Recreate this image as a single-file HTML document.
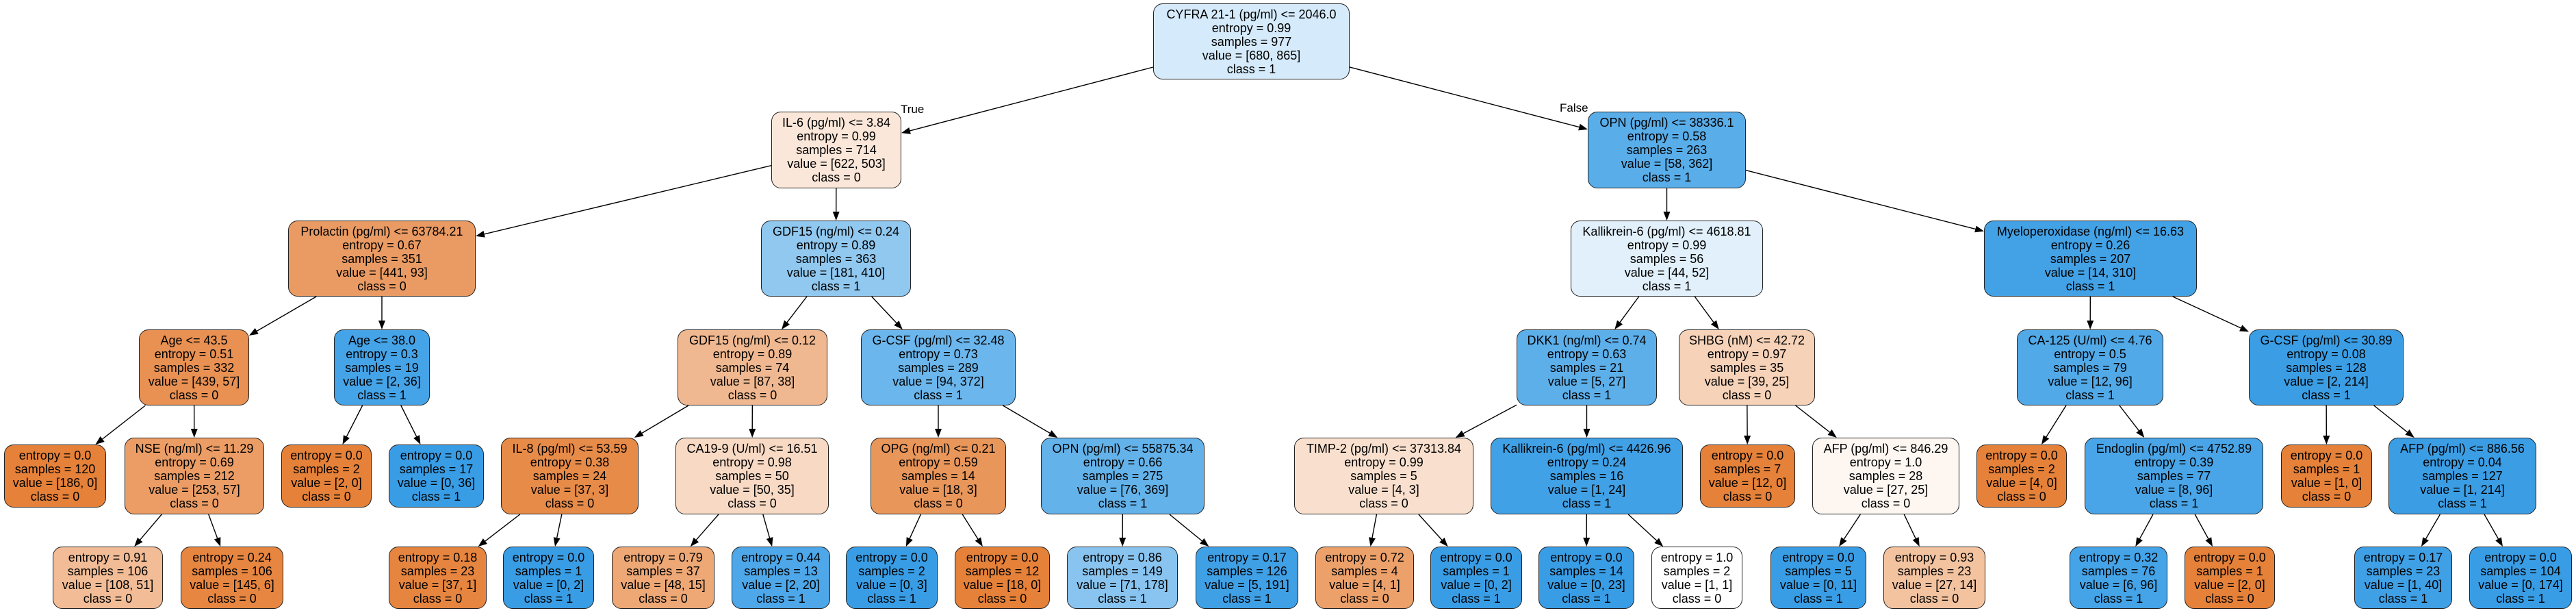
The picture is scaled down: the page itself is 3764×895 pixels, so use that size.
<!DOCTYPE html>
<html><head><meta charset="utf-8"><style>
html,body{margin:0;padding:0;background:#fff}
body{width:3764px;height:895px;position:relative;overflow:hidden;font-family:"Liberation Sans",Arial,sans-serif}
.n{position:absolute;box-sizing:border-box;border:1.3px solid #222;border-radius:14px;display:flex;flex-direction:column;justify-content:center;align-items:center;font-size:18px;line-height:20px;color:#000;white-space:nowrap;text-align:center}
.r0{top:5px;height:111px}.r1{top:163px;height:112px}.r2{top:322px;height:111px}.r3{top:481px;height:111px}
.r4{top:639px;height:112px}.r4l{top:649px;height:92px}.r5{top:798px;height:91px}
.lbl{position:absolute;font-size:17px;color:#000}
svg{position:absolute;left:0;top:0}
</style></head><body>
<svg id="sv" width="3764" height="895"></svg>
<div class="lbl" style="left:1316px;top:150px">True</div>
<div class="lbl" style="left:2279px;top:148px">False</div>

<div id="n0" class="n r0" style="left:1685px;width:287px;background:color-mix(in srgb,#399de5 21%,#fff)"><div>CYFRA 21-1 (pg/ml) &lt;= 2046.0</div><div>entropy = 0.99</div><div>samples = 977</div><div>value = [680, 865]</div><div>class = 1</div></div>

<div id="n1" class="n r1" style="left:1127px;width:190px;background:color-mix(in srgb,#e58139 19%,#fff)"><div>IL-6 (pg/ml) &lt;= 3.84</div><div>entropy = 0.99</div><div>samples = 714</div><div>value = [622, 503]</div><div>class = 0</div></div>
<div id="n2" class="n r1" style="left:2320px;width:231px;background:color-mix(in srgb,#399de5 84%,#fff)"><div>OPN (pg/ml) &lt;= 38336.1</div><div>entropy = 0.58</div><div>samples = 263</div><div>value = [58, 362]</div><div>class = 1</div></div>

<div id="n3" class="n r2" style="left:421px;width:274px;background:color-mix(in srgb,#e58139 79%,#fff)"><div>Prolactin (pg/ml) &lt;= 63784.21</div><div>entropy = 0.67</div><div>samples = 351</div><div>value = [441, 93]</div><div>class = 0</div></div>
<div id="n4" class="n r2" style="left:1112px;width:219px;background:color-mix(in srgb,#399de5 56%,#fff)"><div>GDF15 (ng/ml) &lt;= 0.24</div><div>entropy = 0.89</div><div>samples = 363</div><div>value = [181, 410]</div><div>class = 1</div></div>
<div id="n5" class="n r2" style="left:2295px;width:281px;background:color-mix(in srgb,#399de5 15%,#fff)"><div>Kallikrein-6 (pg/ml) &lt;= 4618.81</div><div>entropy = 0.99</div><div>samples = 56</div><div>value = [44, 52]</div><div>class = 1</div></div>
<div id="n6" class="n r2" style="left:2899px;width:311px;background:color-mix(in srgb,#399de5 95%,#fff)"><div>Myeloperoxidase (ng/ml) &lt;= 16.63</div><div>entropy = 0.26</div><div>samples = 207</div><div>value = [14, 310]</div><div>class = 1</div></div>

<div id="n7" class="n r3" style="left:203px;width:161px;background:color-mix(in srgb,#e58139 87%,#fff)"><div>Age &lt;= 43.5</div><div>entropy = 0.51</div><div>samples = 332</div><div>value = [439, 57]</div><div>class = 0</div></div>
<div id="n8" class="n r3" style="left:488px;width:140px;background:color-mix(in srgb,#399de5 94%,#fff)"><div>Age &lt;= 38.0</div><div>entropy = 0.3</div><div>samples = 19</div><div>value = [2, 36]</div><div>class = 1</div></div>
<div id="n9" class="n r3" style="left:990px;width:219px;background:color-mix(in srgb,#e58139 56%,#fff)"><div>GDF15 (ng/ml) &lt;= 0.12</div><div>entropy = 0.89</div><div>samples = 74</div><div>value = [87, 38]</div><div>class = 0</div></div>
<div id="n10" class="n r3" style="left:1258px;width:226px;background:color-mix(in srgb,#399de5 75%,#fff)"><div>G-CSF (pg/ml) &lt;= 32.48</div><div>entropy = 0.73</div><div>samples = 289</div><div>value = [94, 372]</div><div>class = 1</div></div>
<div id="n11" class="n r3" style="left:2216px;width:205px;background:color-mix(in srgb,#399de5 82%,#fff)"><div>DKK1 (ng/ml) &lt;= 0.74</div><div>entropy = 0.63</div><div>samples = 21</div><div>value = [5, 27]</div><div>class = 1</div></div>
<div id="n12" class="n r3" style="left:2453px;width:199px;background:color-mix(in srgb,#e58139 36%,#fff)"><div>SHBG (nM) &lt;= 42.72</div><div>entropy = 0.97</div><div>samples = 35</div><div>value = [39, 25]</div><div>class = 0</div></div>
<div id="n13" class="n r3" style="left:2947px;width:214px;background:color-mix(in srgb,#399de5 88%,#fff)"><div>CA-125 (U/ml) &lt;= 4.76</div><div>entropy = 0.5</div><div>samples = 79</div><div>value = [12, 96]</div><div>class = 1</div></div>
<div id="n14" class="n r3" style="left:3286px;width:226px;background:color-mix(in srgb,#399de5 99%,#fff)"><div>G-CSF (pg/ml) &lt;= 30.89</div><div>entropy = 0.08</div><div>samples = 128</div><div>value = [2, 214]</div><div>class = 1</div></div>

<div id="n15" class="n r4l" style="left:6px;width:149px;background:#e58139"><div>entropy = 0.0</div><div>samples = 120</div><div>value = [186, 0]</div><div>class = 0</div></div>
<div id="n16" class="n r4" style="left:182px;width:204px;background:color-mix(in srgb,#e58139 78%,#fff)"><div>NSE (ng/ml) &lt;= 11.29</div><div>entropy = 0.69</div><div>samples = 212</div><div>value = [253, 57]</div><div>class = 0</div></div>
<div id="n17" class="n r4l" style="left:411px;width:132px;background:#e58139"><div>entropy = 0.0</div><div>samples = 2</div><div>value = [2, 0]</div><div>class = 0</div></div>
<div id="n18" class="n r4l" style="left:568px;width:139px;background:#399de5"><div>entropy = 0.0</div><div>samples = 17</div><div>value = [0, 36]</div><div>class = 1</div></div>
<div id="n19" class="n r4" style="left:732px;width:201px;background:color-mix(in srgb,#e58139 92%,#fff)"><div>IL-8 (pg/ml) &lt;= 53.59</div><div>entropy = 0.38</div><div>samples = 24</div><div>value = [37, 3]</div><div>class = 0</div></div>
<div id="n20" class="n r4" style="left:987px;width:224px;background:color-mix(in srgb,#e58139 30%,#fff)"><div>CA19-9 (U/ml) &lt;= 16.51</div><div>entropy = 0.98</div><div>samples = 50</div><div>value = [50, 35]</div><div>class = 0</div></div>
<div id="n21" class="n r4" style="left:1272px;width:198px;background:color-mix(in srgb,#e58139 83%,#fff)"><div>OPG (ng/ml) &lt;= 0.21</div><div>entropy = 0.59</div><div>samples = 14</div><div>value = [18, 3]</div><div>class = 0</div></div>
<div id="n22" class="n r4" style="left:1521px;width:239px;background:color-mix(in srgb,#399de5 79%,#fff)"><div>OPN (pg/ml) &lt;= 55875.34</div><div>entropy = 0.66</div><div>samples = 275</div><div>value = [76, 369]</div><div>class = 1</div></div>
<div id="n23" class="n r4" style="left:1891px;width:262px;background:color-mix(in srgb,#e58139 25%,#fff)"><div>TIMP-2 (pg/ml) &lt;= 37313.84</div><div>entropy = 0.99</div><div>samples = 5</div><div>value = [4, 3]</div><div>class = 0</div></div>
<div id="n24" class="n r4" style="left:2178px;width:281px;background:color-mix(in srgb,#399de5 96%,#fff)"><div>Kallikrein-6 (pg/ml) &lt;= 4426.96</div><div>entropy = 0.24</div><div>samples = 16</div><div>value = [1, 24]</div><div>class = 1</div></div>
<div id="n25" class="n r4l" style="left:2484px;width:139px;background:#e58139"><div>entropy = 0.0</div><div>samples = 7</div><div>value = [12, 0]</div><div>class = 0</div></div>
<div id="n26" class="n r4" style="left:2648px;width:215px;background:color-mix(in srgb,#e58139 7%,#fff)"><div>AFP (pg/ml) &lt;= 846.29</div><div>entropy = 1.0</div><div>samples = 28</div><div>value = [27, 25]</div><div>class = 0</div></div>
<div id="n27" class="n r4l" style="left:2888px;width:132px;background:#e58139"><div>entropy = 0.0</div><div>samples = 2</div><div>value = [4, 0]</div><div>class = 0</div></div>
<div id="n28" class="n r4" style="left:3046px;width:261px;background:color-mix(in srgb,#399de5 92%,#fff)"><div>Endoglin (pg/ml) &lt;= 4752.89</div><div>entropy = 0.39</div><div>samples = 77</div><div>value = [8, 96]</div><div>class = 1</div></div>
<div id="n29" class="n r4l" style="left:3333px;width:133px;background:#e58139"><div>entropy = 0.0</div><div>samples = 1</div><div>value = [1, 0]</div><div>class = 0</div></div>
<div id="n30" class="n r4" style="left:3490px;width:216px;background:color-mix(in srgb,#399de5 99%,#fff)"><div>AFP (pg/ml) &lt;= 886.56</div><div>entropy = 0.04</div><div>samples = 127</div><div>value = [1, 214]</div><div>class = 1</div></div>

<div id="n31" class="n r5" style="left:77px;width:161px;background:color-mix(in srgb,#e58139 53%,#fff)"><div>entropy = 0.91</div><div>samples = 106</div><div>value = [108, 51]</div><div>class = 0</div></div>
<div id="n32" class="n r5" style="left:264px;width:150px;background:color-mix(in srgb,#e58139 96%,#fff)"><div>entropy = 0.24</div><div>samples = 106</div><div>value = [145, 6]</div><div>class = 0</div></div>
<div id="n33" class="n r5" style="left:568px;width:143px;background:color-mix(in srgb,#e58139 97%,#fff)"><div>entropy = 0.18</div><div>samples = 23</div><div>value = [37, 1]</div><div>class = 0</div></div>
<div id="n34" class="n r5" style="left:735px;width:133px;background:#399de5"><div>entropy = 0.0</div><div>samples = 1</div><div>value = [0, 2]</div><div>class = 1</div></div>
<div id="n35" class="n r5" style="left:894px;width:150px;background:color-mix(in srgb,#e58139 69%,#fff)"><div>entropy = 0.79</div><div>samples = 37</div><div>value = [48, 15]</div><div>class = 0</div></div>
<div id="n36" class="n r5" style="left:1069px;width:144px;background:color-mix(in srgb,#399de5 90%,#fff)"><div>entropy = 0.44</div><div>samples = 13</div><div>value = [2, 20]</div><div>class = 1</div></div>
<div id="n37" class="n r5" style="left:1236px;width:134px;background:#399de5"><div>entropy = 0.0</div><div>samples = 2</div><div>value = [0, 3]</div><div>class = 1</div></div>
<div id="n38" class="n r5" style="left:1395px;width:139px;background:#e58139"><div>entropy = 0.0</div><div>samples = 12</div><div>value = [18, 0]</div><div>class = 0</div></div>
<div id="n39" class="n r5" style="left:1559px;width:162px;background:color-mix(in srgb,#399de5 60%,#fff)"><div>entropy = 0.86</div><div>samples = 149</div><div>value = [71, 178]</div><div>class = 1</div></div>
<div id="n40" class="n r5" style="left:1747px;width:150px;background:color-mix(in srgb,#399de5 97%,#fff)"><div>entropy = 0.17</div><div>samples = 126</div><div>value = [5, 191]</div><div>class = 1</div></div>
<div id="n41" class="n r5" style="left:1922px;width:144px;background:color-mix(in srgb,#e58139 75%,#fff)"><div>entropy = 0.72</div><div>samples = 4</div><div>value = [4, 1]</div><div>class = 0</div></div>
<div id="n42" class="n r5" style="left:2090px;width:134px;background:#399de5"><div>entropy = 0.0</div><div>samples = 1</div><div>value = [0, 2]</div><div>class = 1</div></div>
<div id="n43" class="n r5" style="left:2248px;width:140px;background:#399de5"><div>entropy = 0.0</div><div>samples = 14</div><div>value = [0, 23]</div><div>class = 1</div></div>
<div id="n44" class="n r5" style="left:2413px;width:133px;background:#fff"><div>entropy = 1.0</div><div>samples = 2</div><div>value = [1, 1]</div><div>class = 0</div></div>
<div id="n45" class="n r5" style="left:2587px;width:140px;background:#399de5"><div>entropy = 0.0</div><div>samples = 5</div><div>value = [0, 11]</div><div>class = 1</div></div>
<div id="n46" class="n r5" style="left:2752px;width:149px;background:color-mix(in srgb,#e58139 48%,#fff)"><div>entropy = 0.93</div><div>samples = 23</div><div>value = [27, 14]</div><div>class = 0</div></div>
<div id="n47" class="n r5" style="left:3024px;width:143px;background:color-mix(in srgb,#399de5 94%,#fff)"><div>entropy = 0.32</div><div>samples = 76</div><div>value = [6, 96]</div><div>class = 1</div></div>
<div id="n48" class="n r5" style="left:3192px;width:132px;background:#e58139"><div>entropy = 0.0</div><div>samples = 1</div><div>value = [2, 0]</div><div>class = 0</div></div>
<div id="n49" class="n r5" style="left:3440px;width:143px;background:color-mix(in srgb,#399de5 97%,#fff)"><div>entropy = 0.17</div><div>samples = 23</div><div>value = [1, 40]</div><div>class = 1</div></div>
<div id="n50" class="n r5" style="left:3608px;width:150px;background:#399de5"><div>entropy = 0.0</div><div>samples = 104</div><div>value = [0, 174]</div><div>class = 1</div></div>

<script>
(function(){
var E=[[0,1],[0,2],[1,3],[1,4],[2,5],[2,6],[3,7],[3,8],[4,9],[4,10],[5,11],[5,12],[6,13],[6,14],
[7,15],[7,16],[8,17],[8,18],[9,19],[9,20],[10,21],[10,22],[11,23],[11,24],[12,25],[12,26],[13,27],[13,28],[14,29],[14,30],
[16,31],[16,32],[19,33],[19,34],[20,35],[20,36],[21,37],[21,38],[22,39],[22,40],[23,41],[23,42],[24,43],[24,44],[26,45],[26,46],[28,47],[28,48],[30,49],[30,50]];
var sv=document.getElementById('sv'),h='';
function R(i){var e=document.getElementById('n'+i);return {x:e.offsetLeft,y:e.offsetTop,w:e.offsetWidth,h:e.offsetHeight};}
function t(r,dx,dy){var a=Math.abs(dx)>0.001?(r.w/2)/Math.abs(dx):1e9,b=Math.abs(dy)>0.001?(r.h/2)/Math.abs(dy):1e9;return Math.min(a,b);}
E.forEach(function(p){
var a=R(p[0]),b=R(p[1]);
var ax=a.x+a.w/2,ay=a.y+a.h/2,bx=b.x+b.w/2,by=b.y+b.h/2;
var dx=bx-ax,dy=by-ay;
var sx=ax+dx*t(a,dx,dy),sy=ay+dy*t(a,dx,dy);
var tb=t(b,dx,dy),ex=bx-dx*tb,ey=by-dy*tb;
var L=Math.sqrt(dx*dx+dy*dy),ux=dx/L,uy=dy/L,al=13,aw=5;
var qx=ex-ux*al,qy=ey-uy*al;
h+='<line x1="'+sx+'" y1="'+sy+'" x2="'+qx+'" y2="'+qy+'" stroke="#000" stroke-width="1.4"/>';
h+='<polygon points="'+ex+','+ey+' '+(qx-uy*aw)+','+(qy+ux*aw)+' '+(qx+uy*aw)+','+(qy-ux*aw)+'" fill="#000"/>';
});
sv.innerHTML=h;
})();
</script>
</body></html>
